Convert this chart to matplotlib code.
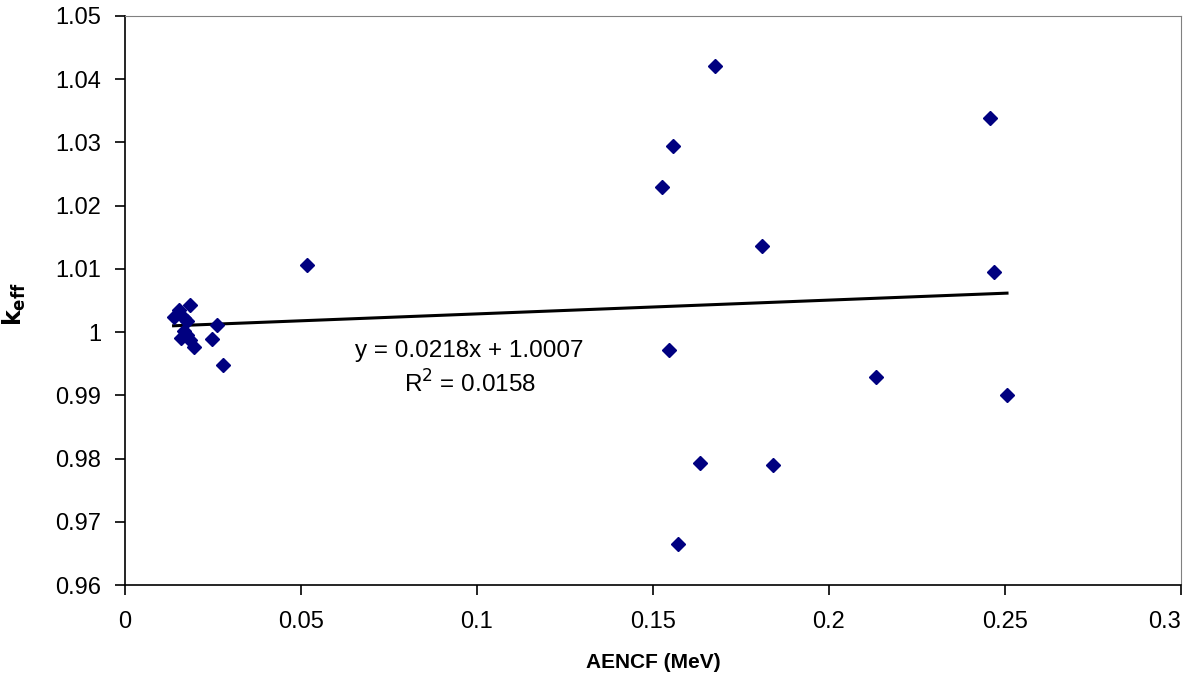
import matplotlib.pyplot as plt
import numpy as np

plt.rcParams['font.family'] = ['Liberation Sans', 'DejaVu Sans']

# AENCF (MeV) and k_eff
aencf = [0.0138, 0.0153, 0.0186, 0.0167, 0.0177, 0.0262, 0.0158, 0.0177,
         0.0186, 0.0196, 0.0246, 0.0278, 0.0167, 0.0517,
         0.1676, 0.2459, 0.1558, 0.1527, 0.1810, 0.2470, 0.1545,
         0.2134, 0.2506, 0.1633, 0.1840, 0.1570]
keff = [1.0024, 1.0035, 1.0043, 1.0022, 1.0017, 1.0011, 0.9990, 0.9995,
        0.9987, 0.9976, 0.9989, 0.9948, 1.0002, 1.0106,
        1.0421, 1.0339, 1.0294, 1.0229, 1.0136, 1.0095, 0.9972,
        0.9929, 0.9900, 0.9793, 0.9790, 0.9665]

slope, intercept = 0.0218, 1.0007
r2 = 0.0158

fig = plt.figure(figsize=(11.94, 6.8), dpi=100)
ax = fig.add_axes([0.1047, 0.1397, 0.8843, 0.8368])

ax.plot(aencf, keff, 'D', color='#000080', ms=7, ls='none', zorder=3)

xr = np.array([min(aencf), max(aencf)])
ax.plot(xr, slope * xr + intercept, color='black', lw=2.2, zorder=2)

ax.text(0.0979, 0.99701, 'y = %.4fx + %.4f' % (slope, intercept),
        ha='center', va='center', fontsize=17.5)
ax.text(0.0979, 0.99179, 'R$^2$ = %.4f' % r2,
        ha='center', va='center', fontsize=17.5)

ax.set_xlim(0, 0.3)
ax.set_ylim(0.96, 1.05)
ax.set_xticks(np.arange(0, 0.301, 0.05))
ax.set_xticklabels(['0', '0.05', '0.1', '0.15', '0.2', '0.25', '0.3'])
yt = np.arange(0.96, 1.0501, 0.01)
ax.set_yticks(yt)
ax.set_yticklabels(['1' if round(v, 2) == 1 else '%.2f' % v for v in yt])
ax.tick_params(direction='out', length=7, width=1.2, labelsize=17)
ax.tick_params(axis='x', pad=12)
ax.tick_params(axis='y', pad=10)
ax.get_xticklabels()[-1].set_ha('right')

for s in ['top', 'right']:
    ax.spines[s].set_color('#808080')
for s in ['left', 'bottom']:
    ax.spines[s].set_color('black')
    ax.spines[s].set_linewidth(1.2)

ax.set_xlabel('AENCF (MeV)', fontsize=15, fontweight='bold')
ax.xaxis.set_label_coords(0.5, -0.1195)
ax.set_ylabel(r'$\mathbf{k}_{\mathbf{eff}}$', fontsize=17)
ax.yaxis.set_label_coords(-0.0923, 0.494)

fig.savefig('out.png', dpi=100)
